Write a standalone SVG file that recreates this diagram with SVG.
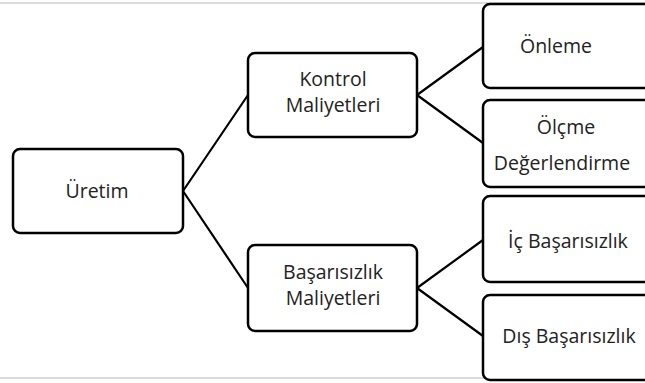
<svg xmlns="http://www.w3.org/2000/svg" width="645" height="383" viewBox="0 0 645 383">
<style>
.box{fill:#fff;stroke:#000;stroke-width:2.5}
.t{font-family:"Open Sans","Liberation Sans",sans-serif;font-size:19.5px;fill:#222;text-anchor:middle}
.c{stroke:#000;stroke-width:2.2;fill:none}
.rule{stroke:#cfcfcf;stroke-width:1.5}
</style>
<rect width="645" height="383" fill="#fff"/>
<line class="rule" x1="0" y1="3" x2="645" y2="3"/>
<line class="rule" x1="0" y1="378" x2="645" y2="378"/>
<g id="connectors">
<path class="c" d="M183,191 L248,95 M183,191 L248,288 M417,95 L483,47 M417,95 L483,143 M417,288 L483,240 M417,288 L483,336"/>
</g>
<g id="uretim"><rect class="box" x="13" y="149" width="170" height="84" rx="7"/><text class="t" x="97" y="198">Üretim</text></g>
<g id="kontrol"><rect class="box" x="248" y="53" width="169" height="84" rx="7"/><text class="t" x="333" y="86">Kontrol</text><text class="t" x="333" y="112">Maliyetleri</text></g>
<g id="basarisizlik"><rect class="box" x="248" y="245" width="169" height="86" rx="7"/><text class="t" x="333" y="279">Başarısızlık</text><text class="t" x="333" y="305">Maliyetleri</text></g>
<g id="onleme"><rect class="box" x="483" y="4" width="180" height="84" rx="7"/><text class="t" x="556" y="53">Önleme</text></g>
<g id="olcme"><rect class="box" x="483" y="100" width="180" height="87" rx="7"/><text class="t" x="566" y="134">Ölçme</text><text class="t" x="562" y="170">Değerlendirme</text></g>
<g id="ic"><rect class="box" x="483" y="196" width="180" height="86" rx="7"/><text class="t" x="568" y="248">İç Başarısızlık</text></g>
<g id="dis"><rect class="box" x="483" y="295" width="180" height="85" rx="7"/><text class="t" x="569" y="343">Dış Başarısızlık</text></g>
</svg>
